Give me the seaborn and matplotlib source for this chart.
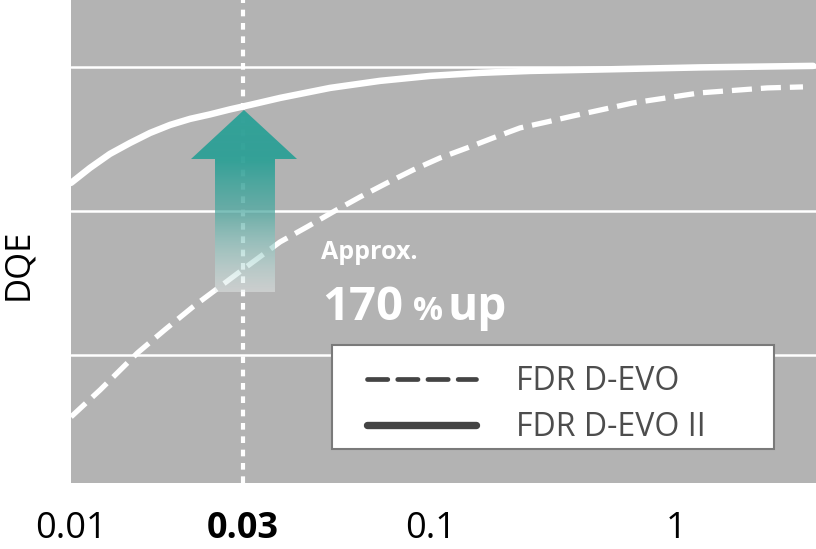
import numpy as np
import pandas as pd
import matplotlib
matplotlib.use('Agg')
import matplotlib.pyplot as plt
import seaborn as sns
from matplotlib.lines import Line2D
from matplotlib.patches import Polygon, Rectangle

# spatial frequency (cycles/mm) and DQE
freq_evo = [0.01, 0.01205, 0.0153, 0.0182, 0.0218, 0.0304, 0.03807, 0.04524,
            0.05342, 0.0635, 0.07546, 0.08913, 0.1088, 0.1403, 0.1792, 0.231,
            0.2977, 0.3802, 0.668, 1.25, 2.36, 3.3]
dqe_evo = [0.3139, 0.3514, 0.4028, 0.4347, 0.4667, 0.5208, 0.5569, 0.5778,
           0.5986, 0.6194, 0.6389, 0.6569, 0.6736, 0.6875, 0.7014, 0.7153,
           0.7236, 0.7319, 0.750, 0.7639, 0.7708, 0.7722]

freq_evo2 = [0.01, 0.01129, 0.01283, 0.01459, 0.01658, 0.01884, 0.02141, 0.02432,
             0.02765, 0.03142, 0.03807, 0.0524, 0.07213, 0.09936, 0.1585, 0.2537,
             0.4062, 1.2555, 3.635]
dqe_evo2 = [0.6389, 0.6597, 0.6792, 0.6944, 0.7083, 0.7194, 0.7278, 0.7340,
            0.7410, 0.7472, 0.7569, 0.7708, 0.7806, 0.7875, 0.7917, 0.7944,
            0.7958, 0.7993, 0.8014]

tick_values = [0.01, 0.03, 0.1, 1]
tick_labels = ['0.01', '0.03', '0.1', '1']
highlight_x = 0.03
series_names = ['FDR D-EVO', 'FDR D-EVO II']

sns.set_style('darkgrid', {'axes.facecolor': '#b3b3b3', 'grid.color': 'white'})
plt.rcParams['font.family'] = ['Open Sans', 'DejaVu Sans']


# the original axis is squeezed above 0.1
def fwd(x):
    lx = np.log10(np.maximum(x, 1e-12))
    return np.where(lx <= -1, lx, -1 + 0.68 * (lx + 1))


def inv(t):
    t = np.asarray(t, dtype=float)
    return np.where(t <= -1, 10.0 ** t, 10.0 ** ((t + 1) / 0.68 - 1))


fig = plt.figure(figsize=(8.16, 5.49), dpi=100)
ax = fig.add_axes([71 / 816, 66 / 549, 745 / 816, 483 / 549])
ax.set_xscale('function', functions=(fwd, inv))

ax.axvline(highlight_x, color='white', lw=3, dashes=(1.6, 1.6), zorder=2)

sns.lineplot(x=freq_evo, y=dqe_evo, color='white', lw=3.8, ax=ax, zorder=3)
ax.lines[-1].set_dashes((3.8, 1.7))
sns.lineplot(x=freq_evo2, y=dqe_evo2, color='white', lw=4.7, ax=ax, zorder=3)

ax.set_xlim(0.01, 3.73)
ax.set_ylim(0.2221, 0.8929)
ax.set_yticks([0.4, 0.6, 0.8])
ax.set_yticklabels(['', '', ''])
ax.set_xticks(tick_values)
ax.set_xticklabels(tick_labels)
ax.xaxis.set_minor_locator(matplotlib.ticker.NullLocator())
ax.get_xticklabels()[1].set_fontweight('bold')
ax.tick_params(axis='x', length=0, pad=20, labelsize=26, labelcolor='black')
ax.tick_params(axis='y', length=0)
ax.grid(axis='x', visible=False)
ax.grid(axis='y', lw=1.8, color='white')
for s in ax.spines.values():
    s.set_visible(False)

ax.set_ylabel('DQE', fontsize=25, color='black')
ax.yaxis.set_label_coords(-0.048, 0.453)

# gradient arrow
arrow_pts = [(0.2322, 0.7723), (0.3034, 0.6708), (0.2738, 0.6708), (0.2738, 0.3954),
             (0.1933, 0.3954), (0.1933, 0.6708), (0.1611, 0.6708)]
arrow = Polygon(arrow_pts, closed=True, transform=ax.transAxes, facecolor='none',
                edgecolor='none')
ax.add_patch(arrow)
s = np.linspace(0, 1, 256)
stops = [0, 0.174, 0.446, 0.723, 1]
r = np.interp(s, stops, [235, 170, 80, 45, 51]) / 255
g = np.interp(s, stops, [240, 215, 170, 160, 162]) / 255
b = np.interp(s, stops, [240, 210, 162, 150, 153]) / 255
a = np.interp(s, stops, [0.45, 0.55, 0.75, 0.95, 1.0])
grad = np.stack([r, g, b, a], axis=1)[:, None, :]
im = ax.imshow(grad, extent=[0.1611, 0.3034, 0.3954, 0.7723], origin='lower',
               transform=ax.transAxes, aspect='auto', interpolation='bilinear', zorder=3.5)
im.set_clip_path(arrow)

ax.text(0.3356, 0.4638, 'Approx.', transform=ax.transAxes, color='white',
        fontsize=18, fontweight='bold', va='baseline', ha='left', zorder=6)
ax.text(0.3369, 0.3375, '170', transform=ax.transAxes, color='white',
        fontsize=34, fontweight='bold', va='baseline', ha='left', zorder=6)
ax.text(0.459, 0.3375, '%', transform=ax.transAxes, color='white',
        fontsize=24, fontweight='bold', va='baseline', ha='left', zorder=6)
ax.text(0.5047, 0.3375, 'up', transform=ax.transAxes, color='white',
        fontsize=33, fontweight='bold', va='baseline', ha='left', zorder=6)

# legend
ax.add_patch(Rectangle((0.3503, 0.0704), 0.5933, 0.2153, transform=ax.transAxes,
                       facecolor='white', edgecolor='#7a7a7a', lw=1.5, zorder=4))
handles = [
    Line2D([], [], color='#444444', lw=3.4, dashes=(4.3, 2.1), dash_capstyle='round'),
    Line2D([], [], color='#444444', lw=5.3),
]
leg = ax.legend(handles, series_names, loc='upper left',
                bbox_to_anchor=((367 - 71) / 745, (483 - 365) / 483),
                frameon=False, fontsize=23, handlelength=3.4, handletextpad=1.25,
                labelspacing=0.41, borderpad=0, borderaxespad=0)
leg.set_zorder(5)
for t in leg.get_texts():
    t.set_color('#4d4d4d')

fig.savefig('out.png', dpi=100)
